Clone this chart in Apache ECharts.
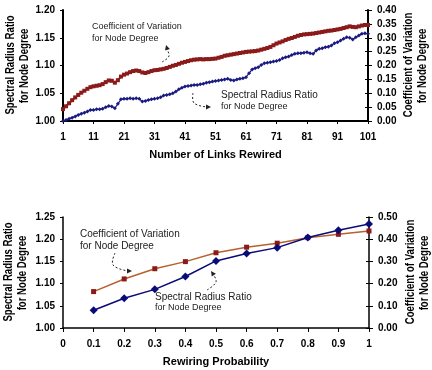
<!DOCTYPE html>
<html><head><meta charset="utf-8">
<script src="https://cdn.jsdelivr.net/npm/echarts@6/dist/echarts.min.js"></script>
<style>html,body{margin:0;padding:0;background:#fff}#c{width:432px;height:370px}</style>
</head><body><div id="c"></div>
<script>
// ---- Top chart data ----
const linksRewired = Array.from({length:101},(_, i)=>String(i+1));
const topSRR = [1.000,1.002,1.004,1.006,1.008,1.011,1.013,1.015,1.017,1.020,
1.020,1.021,1.021,1.022,1.025,1.027,1.026,1.023,1.031,1.039,
1.040,1.040,1.041,1.040,1.041,1.040,1.035,1.036,1.038,1.039,
1.040,1.041,1.043,1.046,1.047,1.048,1.050,1.053,1.057,1.060,
1.062,1.063,1.064,1.065,1.065,1.066,1.067,1.069,1.070,1.071,
1.072,1.073,1.074,1.075,1.076,1.074,1.073,1.075,1.076,1.077,
1.079,1.086,1.093,1.095,1.097,1.101,1.104,1.105,1.106,1.107,
1.108,1.110,1.113,1.115,1.116,1.119,1.121,1.122,1.122,1.123,
1.124,1.122,1.121,1.127,1.130,1.131,1.133,1.134,1.136,1.140,
1.142,1.145,1.148,1.151,1.150,1.147,1.151,1.154,1.157,1.158,1.157];
const topCV = [0.043,0.053,0.064,0.075,0.085,0.094,0.102,0.109,0.116,0.122,
0.125,0.127,0.129,0.133,0.140,0.146,0.145,0.138,0.147,0.160,
0.167,0.171,0.176,0.180,0.182,0.180,0.175,0.173,0.176,0.180,
0.183,0.184,0.186,0.188,0.191,0.195,0.199,0.202,0.206,0.210,
0.213,0.216,0.219,0.221,0.222,0.223,0.222,0.223,0.223,0.224,
0.225,0.228,0.231,0.235,0.237,0.239,0.241,0.243,0.245,0.247,
0.249,0.250,0.251,0.252,0.254,0.257,0.260,0.263,0.267,0.273,
0.279,0.283,0.287,0.292,0.296,0.299,0.303,0.307,0.310,0.312,
0.313,0.314,0.315,0.317,0.319,0.321,0.323,0.325,0.326,0.328,
0.330,0.332,0.335,0.338,0.341,0.339,0.338,0.341,0.344,0.346,0.346];
const topLeftTicks = ['1.00','1.05','1.10','1.15','1.20'];
// ---- Bottom chart data ----
const rewiringProb = [0.1,0.2,0.3,0.4,0.5,0.6,0.7,0.8,0.9,1.0];
const botSRR = [1.040,1.067,1.087,1.116,1.151,1.168,1.181,1.204,1.220,1.234];
const botCV = [0.164,0.221,0.267,0.299,0.339,0.364,0.382,0.407,0.422,0.437];
const srrTitle = ['Spectral Radius Ratio','for Node Degree'];
const cvTitle = ['Coefficient of Variation','for Node Degree'];

const FONT = '"Liberation Sans", Arial, sans-serif';
const lbl = {fontFamily:FONT,fontSize:10,fontWeight:'bold',color:'#000'};
const nm = {fontFamily:FONT,fontSize:11,fontWeight:'bold',color:'#000'};
const axLine = w => ({show:true,lineStyle:{color:'#000',width:w}});

const chart = echarts.init(document.getElementById('c'),null,{renderer:'canvas'});
const ann = {fontFamily:FONT,fontSize:9,fill:'#222'};
function arrowHead(x,y,ang){
  const L=5,W=2.5, c=Math.cos(ang), s=Math.sin(ang);
  return {type:'polygon',shape:{points:[[x,y],[x-L*c+W*s,y-L*s-W*c],[x-L*c-W*s,y-L*s+W*c]]},style:{fill:'#222'}};
}
const dash = pts => ({type:'polyline',shape:{points:pts,smooth:0.4},style:{stroke:'#222',lineWidth:1,lineDash:[2,2],fill:null}});
const innerTicks = (grid,min,max,interval) => ({type:'value',gridIndex:grid,min,max,interval,position:'right',
  axisLine:{show:false},axisTick:{show:true,inside:true,length:3,lineStyle:{color:'#000'}},axisLabel:{show:false},splitLine:{show:false}});
const vText = (txt,x,y) => ({type:'text',x,y,rotation:Math.PI/2,scaleX:0.8,
  style:{text:txt,fontFamily:FONT,fontSize:12,fontWeight:'bold',fill:'#000',align:'center',verticalAlign:'middle'}});

chart.setOption({
  animation:false,
  grid:[{left:63,right:64,top:10,height:111,outerBoundsMode:'none',containLabel:false},
        {left:63,right:63,top:217,height:111,outerBoundsMode:'none',containLabel:false}],
  xAxis:[
    {type:'category',gridIndex:0,data:linksRewired,boundaryGap:false,
     axisLine:axLine(2),axisTick:{show:true,interval:9,length:3,lineStyle:{color:'#000'}},
     axisLabel:Object.assign({interval:9,margin:11},lbl),
     name:'Number of Links Rewired',nameLocation:'middle',nameGap:28,nameTextStyle:nm,splitLine:{show:false}},
    {type:'value',gridIndex:1,min:0,max:1,interval:0.1,
     axisLine:axLine(1.5),axisTick:{show:true,length:4,lineStyle:{color:'#000'}},
     axisLabel:Object.assign({margin:11,formatter:v=>v===0?'0':(v===1?'1':v.toFixed(1))},lbl),
     name:'Rewiring Probability',nameLocation:'middle',nameGap:28,nameTextStyle:nm,splitLine:{show:false}}
  ],
  yAxis:[
    {type:'value',gridIndex:0,min:1.0,max:1.2,interval:0.05,position:'left',
     axisLine:axLine(2),axisTick:{show:true,length:3,lineStyle:{color:'#000'}},
     axisLabel:Object.assign({margin:8,formatter:(v)=>topLeftTicks[Math.round((v-1)/0.05)]},lbl),splitLine:{show:false}},
    {type:'value',gridIndex:0,min:0,max:0.4,interval:0.05,position:'right',
     axisLine:axLine(2),axisTick:{show:true,length:4,lineStyle:{color:'#000'}},
     axisLabel:Object.assign({margin:9,formatter:v=>v.toFixed(2)},lbl),splitLine:{show:false}},
    {type:'value',gridIndex:1,min:1.0,max:1.25,interval:0.05,position:'left',
     axisLine:axLine(1.5),axisTick:{show:true,length:3,lineStyle:{color:'#000'}},
     axisLabel:Object.assign({margin:8,formatter:v=>v.toFixed(2)},lbl),splitLine:{show:false}},
    {type:'value',gridIndex:1,min:0,max:0.5,interval:0.1,position:'right',
     axisLine:axLine(1.5),axisTick:{show:true,length:4,lineStyle:{color:'#000'}},
     axisLabel:Object.assign({margin:9,formatter:v=>v.toFixed(2)},lbl),splitLine:{show:false}},
    innerTicks(0,0,0.4,0.05),
    innerTicks(1,0,0.5,0.1)
  ],
  series:[
    {type:'line',xAxisIndex:0,yAxisIndex:1,data:topCV,symbol:'rect',symbolSize:4,showAllSymbol:true,
     lineStyle:{color:'#8b1a1a',width:2},itemStyle:{color:'#8b1a1a'}},
    {type:'line',xAxisIndex:0,yAxisIndex:0,data:topSRR,symbol:'diamond',symbolSize:4,showAllSymbol:true,
     lineStyle:{color:'#1a1a80',width:1.2},itemStyle:{color:'#1a1a80'}},
    {type:'line',xAxisIndex:1,yAxisIndex:3,data:rewiringProb.map((p,i)=>[p,botCV[i]]),symbol:'rect',symbolSize:5,
     lineStyle:{color:'#b8602e',width:1.5},itemStyle:{color:'#8b1a1a'}},
    {type:'line',xAxisIndex:1,yAxisIndex:2,data:rewiringProb.map((p,i)=>[p,botSRR[i]]),symbol:'diamond',symbolSize:8,
     lineStyle:{color:'#0a0a78',width:1.5},itemStyle:{color:'#0a0a78'}}
  ],
  graphic:[
    vText(srrTitle[0],11,65), vText(srrTitle[1],25,66),
    vText(cvTitle[0],409,65), vText(cvTitle[1],423,66),
    vText(srrTitle[0],9,272), vText(srrTitle[1],23,273),
    vText(cvTitle[0],411,272), vText(cvTitle[1],425,273),
    {type:'text',left:92,top:21,style:Object.assign({text:'Coefficient of Variation\nfor Node Degree',lineHeight:12},ann)},
    dash([[162,62],[169,56],[166,48]]), arrowHead(166,45,-Math.PI/2-0.3),
    {type:'text',left:221,top:89,style:Object.assign({text:'Spectral Radius Ratio',lineHeight:12},ann,{fontSize:10})},
    {type:'text',left:221,top:101,style:Object.assign({text:'for Node Degree',lineHeight:12},ann)},
    dash([[193,93],[194,103],[207,107]]), arrowHead(211,107,0),
    {type:'text',left:80,top:228,style:Object.assign({text:'Coefficient of Variation\nfor Node Degree',lineHeight:12},ann,{fontSize:10})},
    dash([[115,253],[113,265],[128,271]]), arrowHead(132,271,0),
    {type:'text',left:155,top:291,style:Object.assign({text:'Spectral Radius Ratio',lineHeight:12},ann,{fontSize:10})},
    {type:'text',left:155,top:302,style:Object.assign({text:'for Node Degree',lineHeight:12},ann)},
    dash([[207,290],[216,282],[213,274]]), arrowHead(211,271,-Math.PI/2-0.6)
  ]
});
</script></body></html>
